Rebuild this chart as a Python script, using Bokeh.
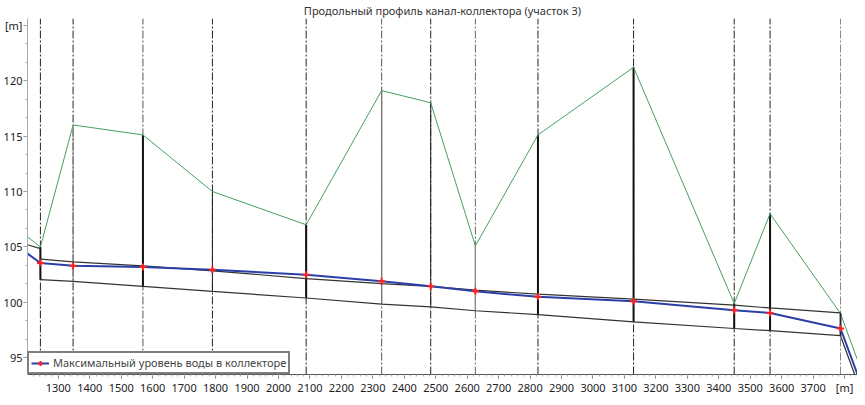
from bokeh.plotting import figure
from bokeh.models import Range1d, Legend, LegendItem, ColumnDataSource, SingleIntervalTicker
from bokeh.embed import file_html
from bokeh.resources import INLINE

title_text = "Продольный профиль канал-коллектора (участок 3)"
legend_text = "Максимальный уровень воды в коллекторе"
unit_label = "[m]"

# chainage range [m] and elevation range [m]
x_start, x_end = 1202, 3841
y_min, y_max = 93.5, 125.6

# stations (manholes / wells) along the collector
stations = [1243, 1347, 1569, 1790, 2088, 2328, 2484, 2626, 2825, 3129, 3449, 3563, 3787]
# ground surface at stations
ground = [105.0, 116.0, 115.1, 110.0, 107.0, 119.1, 118.0, 105.1, 115.1, 121.2, 99.9, 108.0, 99.0]
ground_start, ground_end = 105.9, 94.8
# maximum water level
water = [103.55, 103.3, 103.2, 102.95, 102.5, 101.9, 101.45, 101.0, 100.5, 100.1, 99.3, 99.05, 97.65]
water_start, water_end = 104.4, 93.5
# pipe crown and invert
pipe_top = [103.9, 103.65, 103.3, 102.85, 102.15, 101.7, 101.45, 101.1, 100.75, 100.3, 99.75, 99.5, 99.05]
pipe_top_upstream = [105.2, 104.85]
pipe_bottom = [102.05, 101.9, 101.45, 101.0, 100.4, 99.85, 99.6, 99.25, 98.9, 98.25, 97.65, 97.45, 97.0]
outlet_x, outlet_bottom = 3832, 93.5
# well line weights (thick = manhole)
well_width = [2, 1, 2, 1, 2, 1.3, 1, 1.3, 2, 2, 2, 2, 1.5]
well_color = ["#111", "#888", "#111", "#222", "#111", "#777", "#222", "#888", "#111", "#111", "#111", "#111", "#222"]
dash_color = ["#222", "#222", "#555", "#222", "#222", "#555", "#222", "#666", "#222", "#222", "#222", "#222", "#888"]

p = figure(width=857, height=397,
           x_range=Range1d(x_start, x_end), y_range=Range1d(y_min, y_max),
           output_backend="svg", toolbar_location=None, title=title_text,
           min_border_left=0, min_border_right=0, min_border_top=0, min_border_bottom=0)
p.grid.visible = False
p.outline_line_color = None
p.background_fill_color = "white"

p.title.align = "center"
p.title.text_font = "Noto Sans"
p.title.text_font_size = "11px"
p.title.text_font_style = "normal"
p.title.text_color = "#333333"
p.title.standoff = 1

p.xaxis.ticker = SingleIntervalTicker(interval=100, num_minor_ticks=5)
p.yaxis.ticker = SingleIntervalTicker(interval=5, num_minor_ticks=3)
p.xaxis.major_label_overrides = {3800: unit_label}
p.yaxis.major_label_overrides = {125: unit_label}
for ax in (p.xaxis[0], p.yaxis[0]):
    ax.major_tick_out = 4
    ax.major_tick_in = 0
    ax.minor_tick_out = 2
    ax.minor_tick_in = 0
    ax.major_label_standoff = 1
    ax.major_label_text_font = "Noto Sans"
    ax.major_label_text_font_size = "11px"
    ax.major_label_text_color = "#222222"
p.xaxis.axis_line_color = "#555555"
p.yaxis.axis_line_color = "#aaaaaa"
p.xaxis.major_tick_line_color = "#777777"
p.xaxis.minor_tick_line_color = "#aaaaaa"
p.yaxis.major_tick_line_color = "#999999"
p.yaxis.minor_tick_line_color = "#aaaaaa"

# dash-dot station lines
dsrc = ColumnDataSource(dict(x=stations, y0=[y_min] * len(stations), y1=[y_max] * len(stations), c=dash_color))
p.segment(x0="x", x1="x", y0="y0", y1="y1", source=dsrc, line_color="c", line_width=1, line_dash="8 2 2 2")

# wells: from ground to invert
wsrc = ColumnDataSource(dict(x=stations, g=ground, b=pipe_bottom, w=well_width, c=well_color))
p.segment(x0="x", x1="x", y0="g", y1="b", source=wsrc, line_color="c", line_width="w")

# ground surface
p.line([x_start] + stations + [x_end], [ground_start] + ground + [ground_end], line_color="#45a060", line_width=1)

# pipe crown and invert
p.line([x_start, stations[0]], pipe_top_upstream, line_color="#333333", line_width=1.2)
p.line(stations, pipe_top, line_color="#333333", line_width=1.2)
p.line(stations + [outlet_x], pipe_bottom + [outlet_bottom], line_color="#333333", line_width=1.2)
p.segment(x0=stations[-1:], x1=stations[-1:], y0=pipe_top[-1:], y1=pipe_bottom[-1:], line_color="#222", line_width=1.5)

# maximum water level
wl = p.line([x_start] + stations + [x_end], [water_start] + water + [water_end], line_color="#2b3fa8", line_width=2)
mk = p.scatter(stations, water, marker="cross", size=7, line_color="#ff2020", line_width=2)

legend = Legend(items=[LegendItem(label=legend_text, renderers=[wl, mk])],
                location="bottom_left", border_line_color="#000000", border_line_width=2,
                margin=0, padding=2, spacing=0, label_text_font="Noto Sans", label_text_font_size="11px",
                glyph_width=18, glyph_height=12, label_height=12, label_standoff=4,
                background_fill_alpha=1.0)
p.add_layout(legend)

open("out.html", "w").write(file_html(p, INLINE))
